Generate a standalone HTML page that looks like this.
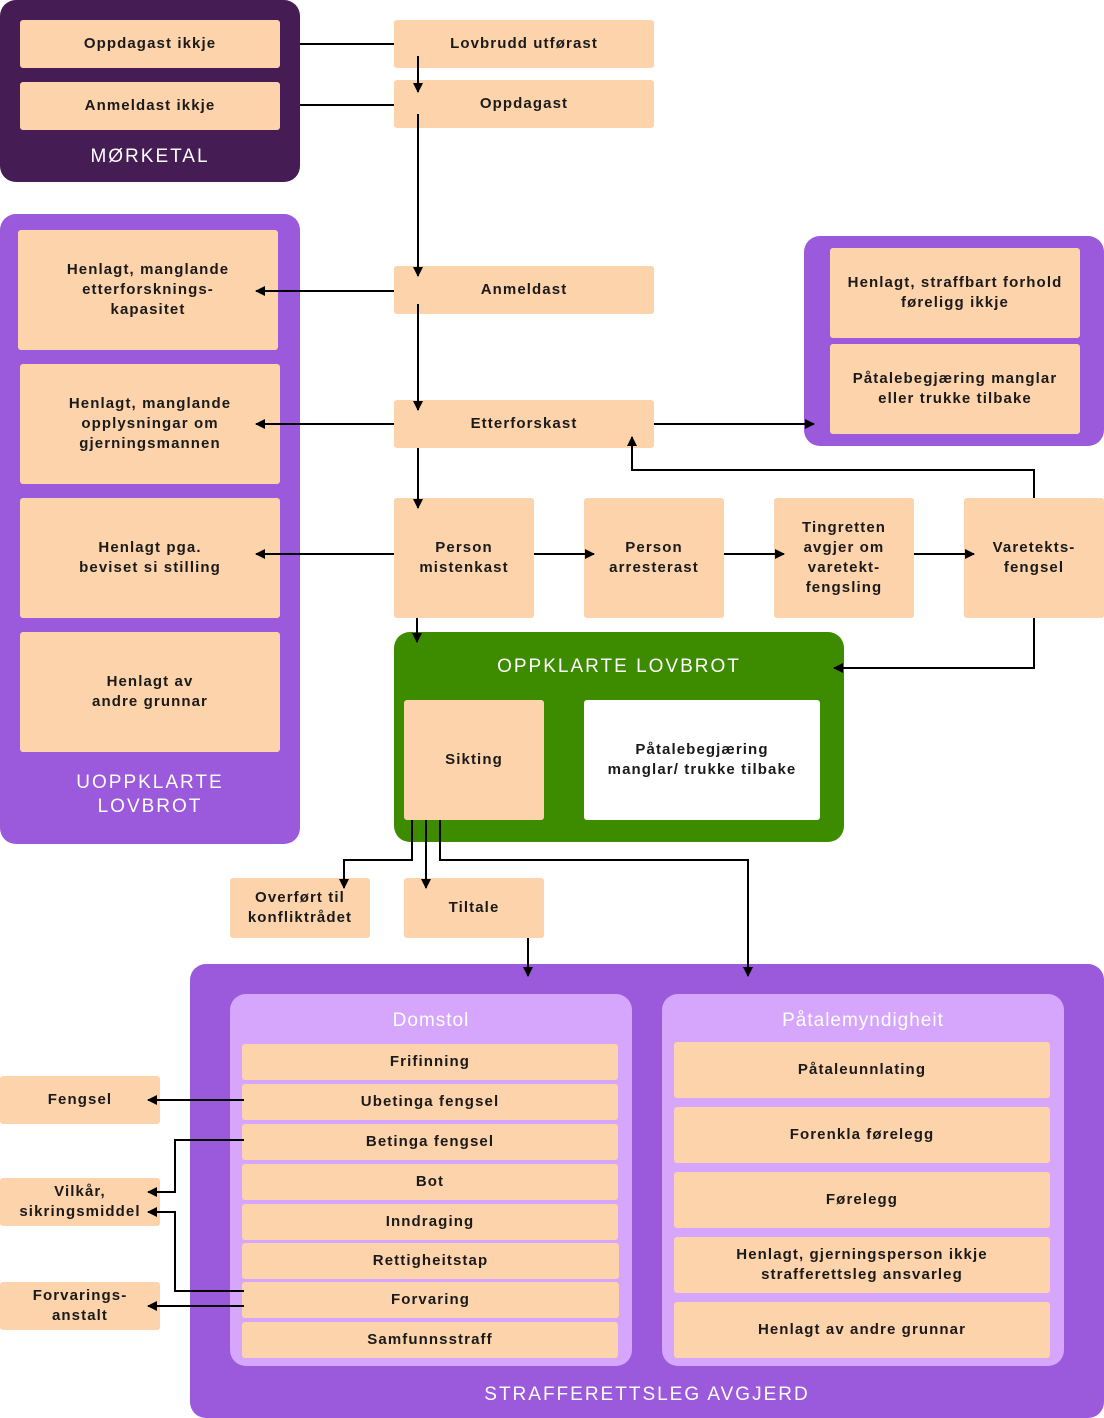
<!DOCTYPE html>
<html><head><meta charset="utf-8"><style>
*{margin:0;padding:0;box-sizing:border-box}
body{width:1104px;height:1418px;position:relative;background:#fff;font-family:"Liberation Sans",sans-serif;overflow:hidden}
.b{position:absolute;background:#fdd3ab;border-radius:3px;display:flex;align-items:center;justify-content:center;text-align:center;font-weight:bold;font-size:15px;letter-spacing:1.1px;line-height:20px;color:#1a1a1a}
.c{position:absolute;border-radius:16px}
.t{position:absolute;color:#fff;font-size:19px;letter-spacing:2px;text-align:center;line-height:24px}
svg{position:absolute;left:0;top:0}
</style></head><body>
<div class="c" style="left:0;top:0;width:300px;height:182px;background:#451d54"></div>
<div class="c" style="left:0;top:214px;width:300px;height:630px;background:#9b59db"></div>
<div class="c" style="left:804px;top:236px;width:300px;height:210px;background:#9b59db"></div>
<div class="c" style="left:394px;top:632px;width:450px;height:210px;background:#3d8c00"></div>
<div class="c" style="left:190px;top:964px;width:914px;height:454px;background:#9b59db;border-radius:16px 16px 16px 16px"></div>
<div class="c" style="left:230px;top:994px;width:402px;height:372px;background:#d5a6fb"></div>
<div class="c" style="left:662px;top:994px;width:402px;height:372px;background:#d5a6fb"></div>

<div class="t" style="left:0;top:145px;width:300px">MØRKETAL</div>
<div class="t" style="left:0;top:771px;width:300px">UOPPKLARTE<br>LOVBROT</div>
<div class="t" style="left:394px;top:655px;width:450px">OPPKLARTE LOVBROT</div>
<div class="t" style="left:190px;top:1383px;width:914px">STRAFFERETTSLEG AVGJERD</div>
<div class="t" style="left:230px;top:1009px;width:402px;letter-spacing:1px">Domstol</div>
<div class="t" style="left:662px;top:1009px;width:402px;letter-spacing:1px">Påtalemyndigheit</div>

<div class="b" style="left:20px;top:20px;width:260px;height:48px">Oppdagast ikkje</div>
<div class="b" style="left:20px;top:82px;width:260px;height:48px">Anmeldast ikkje</div>
<div class="b" style="left:394px;top:20px;width:260px;height:48px">Lovbrudd utførast</div>
<div class="b" style="left:394px;top:80px;width:260px;height:48px">Oppdagast</div>
<div class="b" style="left:394px;top:266px;width:260px;height:48px">Anmeldast</div>
<div class="b" style="left:394px;top:400px;width:260px;height:48px">Etterforskast</div>

<div class="b" style="left:18px;top:230px;width:260px;height:120px">Henlagt, manglande<br>etterforsknings-<br>kapasitet</div>
<div class="b" style="left:20px;top:364px;width:260px;height:120px">Henlagt, manglande<br>opplysningar om<br>gjerningsmannen</div>
<div class="b" style="left:20px;top:498px;width:260px;height:120px">Henlagt pga.<br>beviset si stilling</div>
<div class="b" style="left:20px;top:632px;width:260px;height:120px">Henlagt av<br>andre grunnar</div>

<div class="b" style="left:830px;top:248px;width:250px;height:90px">Henlagt, straffbart forhold<br>føreligg ikkje</div>
<div class="b" style="left:830px;top:344px;width:250px;height:90px">Påtalebegjæring manglar<br>eller trukke tilbake</div>

<div class="b" style="left:394px;top:498px;width:140px;height:120px">Person<br>mistenkast</div>
<div class="b" style="left:584px;top:498px;width:140px;height:120px">Person<br>arresterast</div>
<div class="b" style="left:774px;top:498px;width:140px;height:120px">Tingretten<br>avgjer om<br>varetekt-<br>fengsling</div>
<div class="b" style="left:964px;top:498px;width:140px;height:120px">Varetekts-<br>fengsel</div>

<div class="b" style="left:404px;top:700px;width:140px;height:120px">Sikting</div>
<div class="b" style="left:584px;top:700px;width:236px;height:120px;background:#fff">Påtalebegjæring<br>manglar/ trukke tilbake</div>

<div class="b" style="left:230px;top:878px;width:140px;height:60px">Overført til<br>konfliktrådet</div>
<div class="b" style="left:404px;top:878px;width:140px;height:60px">Tiltale</div>

<div class="b" style="left:242px;top:1044px;width:376px;height:36px">Frifinning</div>
<div class="b" style="left:242px;top:1084px;width:376px;height:36px">Ubetinga fengsel</div>
<div class="b" style="left:242px;top:1124px;width:376px;height:36px">Betinga fengsel</div>
<div class="b" style="left:242px;top:1164px;width:376px;height:36px">Bot</div>
<div class="b" style="left:242px;top:1204px;width:376px;height:36px">Inndraging</div>
<div class="b" style="left:242px;top:1243px;width:377px;height:36px">Rettigheitstap</div>
<div class="b" style="left:242px;top:1282px;width:377px;height:36px">Forvaring</div>
<div class="b" style="left:242px;top:1322px;width:376px;height:36px">Samfunnsstraff</div>

<div class="b" style="left:674px;top:1042px;width:376px;height:56px">Påtaleunnlating</div>
<div class="b" style="left:674px;top:1107px;width:376px;height:56px">Forenkla førelegg</div>
<div class="b" style="left:674px;top:1172px;width:376px;height:56px">Førelegg</div>
<div class="b" style="left:674px;top:1237px;width:376px;height:56px">Henlagt, gjerningsperson ikkje<br>strafferettsleg ansvarleg</div>
<div class="b" style="left:674px;top:1302px;width:376px;height:56px">Henlagt av andre grunnar</div>

<div class="b" style="left:0;top:1076px;width:160px;height:48px">Fengsel</div>
<div class="b" style="left:0;top:1178px;width:160px;height:48px">Vilkår,<br>sikringsmiddel</div>
<div class="b" style="left:0;top:1282px;width:160px;height:48px">Forvarings-<br>anstalt</div>

<svg width="1104" height="1418" viewBox="0 0 1104 1418">
<defs><marker id="a" markerWidth="10" markerHeight="10" refX="9" refY="5" orient="auto" markerUnits="userSpaceOnUse"><path d="M0,0 L10,5 L0,10 Z" fill="#000"/></marker></defs>
<g stroke="#000" stroke-width="2" fill="none">
<path d="M300,44H394M300,105H394"/>
<path d="M418,56V92" marker-end="url(#a)"/>
<path d="M418,114V276" marker-end="url(#a)"/>
<path d="M418,304V410" marker-end="url(#a)"/>
<path d="M394,291H256" marker-end="url(#a)"/>
<path d="M394,424H256" marker-end="url(#a)"/>
<path d="M418,448V508" marker-end="url(#a)"/>
<path d="M394,554H256" marker-end="url(#a)"/>
<path d="M534,554H594" marker-end="url(#a)"/>
<path d="M724,554H784" marker-end="url(#a)"/>
<path d="M914,554H974" marker-end="url(#a)"/>
<path d="M654,424H814" marker-end="url(#a)"/>
<path d="M1034,498V470H632V437" marker-end="url(#a)"/>
<path d="M1034,618V668H834" marker-end="url(#a)"/>
<path d="M417,618V642" marker-end="url(#a)"/>
<path d="M412,820V860H344V888" marker-end="url(#a)"/>
<path d="M426,820V888" marker-end="url(#a)"/>
<path d="M440,820V860H748V976" marker-end="url(#a)"/>
<path d="M528,938V976" marker-end="url(#a)"/>
<path d="M244,1100H148" marker-end="url(#a)"/>
<path d="M244,1140H175V1192H148" marker-end="url(#a)"/>
<path d="M244,1291H175V1212H148" marker-end="url(#a)"/>
<path d="M244,1306H148" marker-end="url(#a)"/>
</g></svg>
</body></html>
